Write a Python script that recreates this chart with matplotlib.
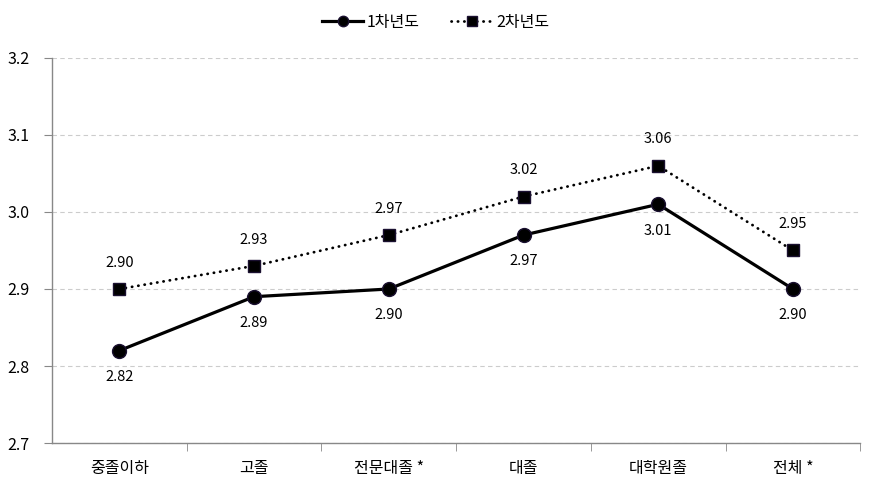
import matplotlib
matplotlib.use("Agg")
import matplotlib.pyplot as plt
import numpy as np

plt.rcParams['font.family'] = ['Noto Sans CJK KR', 'DejaVu Sans']

categories = ["중졸이하", "고졸", "전문대졸 *", "대졸", "대학원졸", "전체 *"]
year1 = [2.82, 2.89, 2.90, 2.97, 3.01, 2.90]
year2 = [2.90, 2.93, 2.97, 3.02, 3.06, 2.95]
series_names = ["1차년도", "2차년도"]

fig = plt.figure(figsize=(8.71, 4.93), dpi=100)
ax = fig.add_axes([0.0597, 0.1014, 0.928, 0.781])

x = np.arange(len(categories))
l1, = ax.plot(x, year1, color="black", lw=2.3, marker="o", ms=10,
              mfc="black", mec="#1a1030", label=series_names[0], zorder=3)
l2, = ax.plot(x, year2, color="black", lw=2.0, ls=(0, (0.1, 2.2)), marker="s", ms=9,
              mfc="black", mec="#1a1030", label=series_names[1], zorder=3,
              dash_capstyle="round")

for xi, v in zip(x, year1):
    ax.annotate(f"{v:.2f}", (xi, v), xytext=(0, -19), textcoords="offset points",
                ha="center", va="center", fontsize=10.5)
for xi, v in zip(x, year2):
    ax.annotate(f"{v:.2f}", (xi, v), xytext=(0, 19), textcoords="offset points",
                ha="center", va="center", fontsize=10.5)

ax.set_xlim(-0.5, len(categories) - 0.5)
ax.set_ylim(2.7, 3.2)
ax.set_yticks(np.arange(2.7, 3.21, 0.1))
ax.set_yticklabels([f"{t:.1f}" for t in np.arange(2.7, 3.21, 0.1)], fontsize=11.5)
ax.yaxis.grid(True, ls=(0, (4, 3)), color="#cccccc", lw=0.8)
ax.set_axisbelow(True)

ax.set_xticks(x)
ax.set_xticklabels(categories, fontsize=11.5)
ax.tick_params(axis="x", length=0, pad=12)
ax.set_xticks(np.arange(0.5, len(categories), 1), minor=True)
ax.tick_params(axis="x", which="minor", length=6, color="#888888", direction="out")
ax.tick_params(axis="y", length=6, color="#888888", pad=10)

for s in ["top", "right"]:
    ax.spines[s].set_visible(False)
for s in ["left", "bottom"]:
    ax.spines[s].set_color("#888888")
    ax.spines[s].set_linewidth(1.0)

fig.legend(handles=[l1, l2], loc="center", bbox_to_anchor=(0.5, 0.955), ncol=2,
           frameon=False, fontsize=11.5, handlelength=2.6, columnspacing=2.0,
           handletextpad=0.2, markerscale=0.75)

fig.savefig("out.png", dpi=100)
